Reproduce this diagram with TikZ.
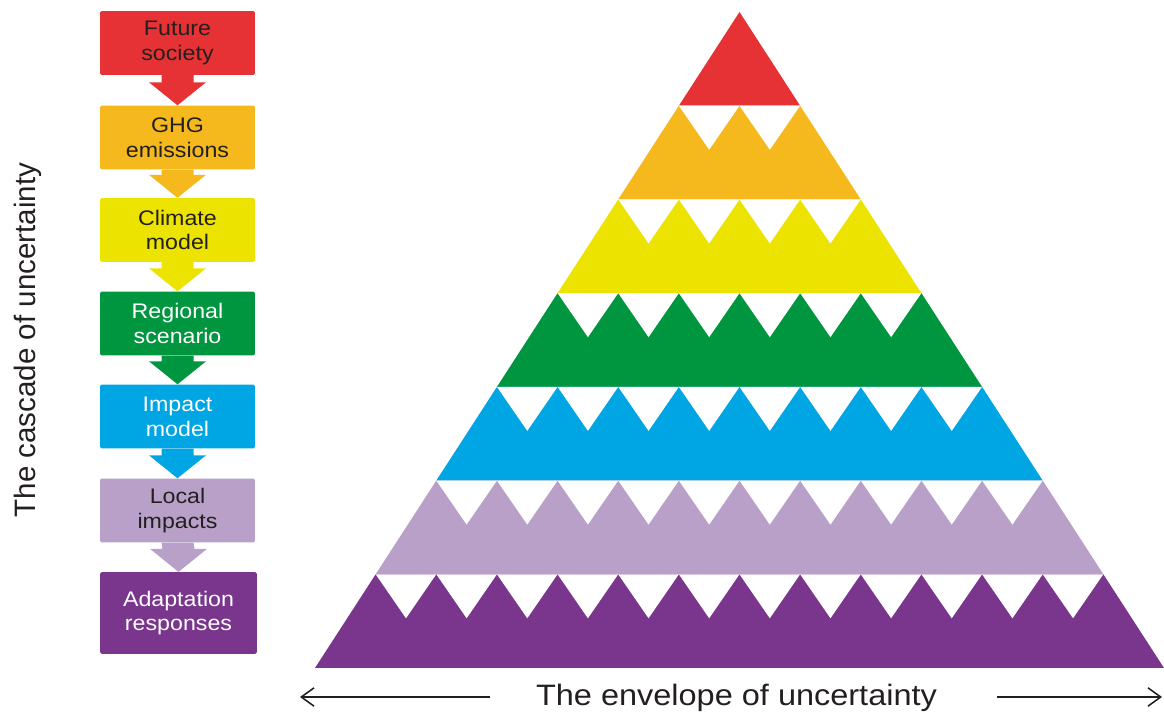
\documentclass[tikz,border=0pt]{standalone}
\usepackage{fontspec}
\setmainfont{Liberation Sans}[FakeStretch=1.1]
\newfontfamily\upsans{Liberation Sans}
\usetikzlibrary{calc,math,arrows.meta}
\definecolor{fsred}{RGB}{230,50,52}
\definecolor{ghgorange}{RGB}{245,185,30}
\definecolor{climyellow}{RGB}{236,228,0}
\definecolor{reggreen}{RGB}{0,150,64}
\definecolor{impblue}{RGB}{0,166,228}
\definecolor{loclilac}{RGB}{185,160,200}
\definecolor{adppurple}{RGB}{121,54,140}
\definecolor{txtdark}{RGB}{35,31,32}
% fat down arrow from one box to the next
\newcommand{\cascarrow}[3]{%
\fill[#3] ($(#1.south)+(-16,0)$) -- ($(#2.north)+(-16,-23)$) -- ($(#2.north)+(-28.5,-23)$) -- (#2.north)
  -- ($(#2.north)+(28.5,-23)$) -- ($(#2.north)+(16,-23)$) -- ($(#1.south)+(16,0)$) -- cycle;}
\tikzset{
casbox/.style={fill=#1, rounded corners=1pt, minimum width=109.9pt, minimum height=45.4pt,
  align=center, inner sep=0pt, font=\fontsize{15}{17.7}\selectfont},
envarrow/.style={line width=1.1pt, txtdark, -{Straight Barb[length=9pt,width=13pt]}}
}

\begin{document}
\begin{tikzpicture}[x=0.025cm,y=-0.025cm]
\tikzmath{
\ax=739.5;\ay=12;%apex
\rh=93.71;%row height
\hw=60.64;%half width step
\notch=44;
}
\useasboundingbox (0,0) rectangle (1164,711);
%pyramid
\foreach \c [count=\k] in {fsred,ghgorange,climyellow,reggreen,impblue,loclilac,adppurple}{
  \pgfmathsetmacro\yt{\ay+(\k-1)*\rh}
  \pgfmathsetmacro\yb{\ay+\k*\rh}
  \fill[\c] (\ax-\k*\hw+\hw,\yt) -- (\ax+\k*\hw-\hw,\yt) -- (\ax+\k*\hw,\yb) -- (\ax-\k*\hw,\yb) -- cycle;
  \ifnum\k>1
    \pgfmathtruncatemacro\nw{2*(\k-1)}
    \foreach \j in {1,...,\nw}{
      \pgfmathsetmacro\xl{\ax-(\k-1)*\hw+(\j-1)*\hw}
      \fill[white] (\xl,\yt) -- (\xl+\hw,\yt) -- (\xl+0.5*\hw,\yt+\notch) -- cycle;
    }
  \fi
}
%cascade
\node[casbox=fsred, text=txtdark] (fut) at (177.5,43) {Future\\society};
\node[casbox=ghgorange, text=txtdark] (ghg) at (177.5,137.5) {GHG\\emissions};
\node[casbox=climyellow, text=txtdark] (clim) at (177.5,230) {Climate\\model};
\node[casbox=reggreen, text=white] (reg) at (177.5,323.5) {Regional\\scenario};
\node[casbox=impblue, text=white] (imp) at (177.5,416.5) {Impact\\model};
\node[casbox=loclilac, text=txtdark] (loc) at (177.5,510.5) {Local\\impacts};
\node[casbox=adppurple, text=white, minimum width=111.3pt, minimum height=58.1pt] (adp) at (178.5,613) {Adaptation\\responses};
\cascarrow{fut}{ghg}{fsred}
\cascarrow{ghg}{clim}{ghgorange}
\cascarrow{clim}{reg}{climyellow}
\cascarrow{reg}{imp}{reggreen}
\cascarrow{imp}{loc}{impblue}
\cascarrow{loc}{adp}{loclilac}
\node[rotate=90, text=txtdark, font=\upsans\fontsize{21}{25}\selectfont] (casc) at (27.5,340) {The cascade of uncertainty};
%envelope
\node[anchor=base, text=txtdark, font=\fontsize{21}{25}\selectfont] (env) at (736.5,705) {The envelope of uncertainty};
\coordinate (envl) at (490,697);
\coordinate (envlend) at (300,697);
\coordinate (envr) at (997,697);
\coordinate (envrend) at (1162,697);
\draw[envarrow] (envl) -- (envlend);
\draw[envarrow] (envr) -- (envrend);
\end{tikzpicture}
\end{document}
